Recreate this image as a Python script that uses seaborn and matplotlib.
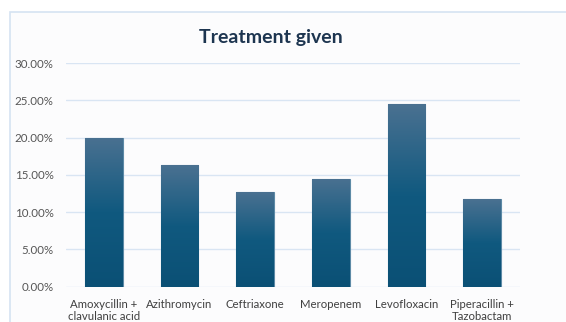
import numpy as np
import pandas as pd
import matplotlib
matplotlib.use("Agg")
import matplotlib.pyplot as plt
from matplotlib.colors import LinearSegmentedColormap
from matplotlib.patches import Rectangle
from matplotlib.ticker import PercentFormatter
import seaborn as sns

# Share of patients per antibiotic given
treatments = [
    "Amoxycillin +\nclavulanic acid",
    "Azithromycin",
    "Ceftriaxone",
    "Meropenem",
    "Levofloxacin",
    "Piperacillin +\nTazobactam",
]
shares = [20.0, 16.3, 12.7, 14.5, 24.5, 11.8]
y_ticks = [0, 5, 10, 15, 20, 25, 30]

sns.set_theme(style="white")
plt.rcParams["font.family"] = ["Lato", "DejaVu Sans"]

df = pd.DataFrame({"treatment": treatments, "share": shares})

fig = plt.figure(figsize=(5.66, 3.22), dpi=100)
fig.patch.set_facecolor("white")

# Chart frame (open towards right and bottom)
frame = Rectangle((10 / 566, -0.1), 1.2, 1 - 12 / 322 + 0.1,
                  transform=fig.transFigure, facecolor="#fcfcfd",
                  edgecolor="#d5e3f2", linewidth=1.2, zorder=-10)
fig.patches.append(frame)

ax = fig.add_axes([66 / 566, 35.3 / 322, (520 - 66) / 566, (286.7 - 63) / 322])
ax.set_facecolor("none")

sns.barplot(data=df, x="treatment", y="share", ax=ax, width=0.5,
            color="#175c80", edgecolor="#5d8aa6", linewidth=0.8, zorder=3)

# Vertical gradient fill for each bar
cmap = LinearSegmentedColormap.from_list("bar", ["#0b5075", "#10597f", "#4a7191"])
grad = np.linspace(0, 1, 256).reshape(-1, 1)
for patch in ax.patches:
    x0, y0 = patch.get_x(), patch.get_y()
    w, h = patch.get_width(), patch.get_height()
    im = ax.imshow(grad, cmap=cmap, origin="lower", aspect="auto",
                   extent=[x0, x0 + w, y0, y0 + h], zorder=3.5)
    im.set_clip_path(patch)
ax.set_xlim(-0.5, len(treatments) - 0.5)

ax.set_ylim(0, 30)
ax.set_yticks(y_ticks)
ax.yaxis.set_major_formatter(PercentFormatter(decimals=2))
ax.grid(axis="y", color="#d9e5f3", linewidth=1.0, zorder=0)
ax.set_axisbelow(True)
for s in ax.spines.values():
    s.set_visible(False)

ax.set_xlabel("")
ax.set_ylabel("")
ax.tick_params(axis="y", labelsize=8.3, colors="#555555", length=0, pad=9)
ax.tick_params(axis="x", labelsize=8.2, colors="#404040", length=0, pad=8.5)
for lbl in ax.get_xticklabels():
    lbl.set_linespacing(1.2)

fig.text(271 / 566, 1 - 37 / 322, "Treatment given", ha="center", va="center",
         fontsize=14, fontweight="bold", color="#1d3550")

fig.savefig("out.png", dpi=100)
